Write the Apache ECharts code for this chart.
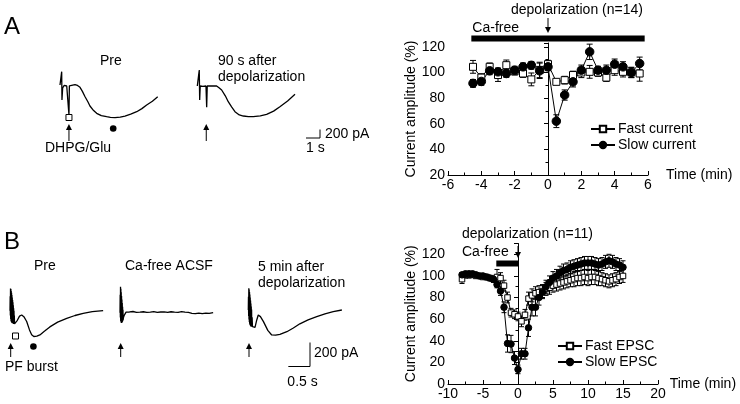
<!DOCTYPE html>
<html><head><meta charset="utf-8">
<script src="https://cdn.jsdelivr.net/npm/echarts@6/dist/echarts.min.js"></script>
<style>html,body{margin:0;padding:0;background:#fff}#c{width:740px;height:404px}</style>
</head><body><div id="c"></div>
<script>
const FONT = 'Liberation Sans, Arial, Helvetica, sans-serif';

// ---------- Panel A summary (time course, min) ----------
const timeA = [-4.5,-4,-3.5,-3,-2.5,-2,-1.5,-1,-0.5,0,0.5,1,1.5,2,2.5,3,3.5,4,4.5,5,5.5];
const fastA = [104.4,96,104.4,98,105.7,101,99.2,94.6,102,106.5,92.7,94,98,100,100.5,100,96,101.8,100.5,100,99.2];
const fastErrA = [5,3,3,5,4,3,3,5,6,3,2,3,3,4,5,3,3,4,4,4,6];
const slowA = [91.5,93,101.3,100.5,99.2,101.8,104.4,105.6,101.3,104.4,62,82.4,92.7,101.8,116.1,101.8,101.8,106.5,104.4,100,107];
const slowErrA = [3,3,3,3,3,3,3,3,6,3,5,4,4,4,6,3,4,4,4,4,5];
const caFreeA = [-4.6, 5.8];
const depolA = 0;

// ---------- Panel B summary ----------
const timeB = [-8,-7.5,-7,-6.5,-6,-5.5,-5,-4.5,-4,-3.5,-3,-2.5,-2,-1.5,-1,-0.5,0,0.5,1,1.5,2,2.5,3,3.5,4,4.5,5,5.5,6,6.5,7,7.5,8,8.5,9,9.5,10,10.5,11,11.5,12,12.5,13,13.5,14,14.5,15];
const fastB = [97,101,101,101,100,100,99,99,98,97,99,98,91,80,66,64.5,62.5,58,64,79,82,84,85,86,88,89,91,92,93,94,95,96,97,98,98,99,98,99,99,98,97,96,95,96,97,99,100];
const fastErrB = [4,3,3,2,2,2,2,2,2,3,7,5,5,5,4,4,4,5,5,6,6,6,6,6,6,6,6,6,6,6,6,6,7,7,7,7,7,7,7,7,6,6,6,6,6,6,6];
const slowB = [101,102,102,102,101,100,100,99,98,97,92,86,71,37.5,37,24,13.5,28,28,52,71,71,80,85,90,94,98,100,103,105,106,108,109,110,111,112,112,112,111,110,111,113,114,113,111,110,108];
const slowErrB = [2,2,2,2,2,2,2,2,2,2,3,4,5,8,8,6,4,5,5,8,8,8,7,6,6,6,6,6,6,6,6,6,6,6,6,6,6,6,6,6,6,6,6,6,6,6,6];
const caFreeB = [-3.1, 0];
const depolB = 0;

// ---------- Example traces (t in s, current in pA) ----------
const traceA1 = [[0,0],[0.1,0],[0.12,313],[0.14,-350],[0.19,-70],[0.3,-10],[0.48,-23],[0.6,0],[0.64,-705],[0.67,-20],[0.76,0],[1.07,10],[1.25,-10],[1.43,-55],[1.6,-150],[1.79,-275],[2.0,-400],[2.14,-494],[2.4,-600],[2.62,-666],[2.95,-720],[3.33,-745],[3.6,-760],[3.93,-768],[4.3,-755],[4.64,-729],[5.05,-685],[5.48,-627],[5.85,-555],[6.19,-470],[6.6,-380],[6.98,-274]];
const traceA2 = [[0,0],[0.12,0],[0.14,376],[0.17,-329],[0.21,0],[0.4,-10],[0.62,0],[0.67,-500],[0.71,0],[1.1,5],[1.38,0],[1.55,-40],[1.74,-94],[2.0,-230],[2.21,-368],[2.45,-490],[2.69,-603],[3.0,-680],[3.29,-705],[3.65,-718],[4.0,-720],[4.5,-700],[4.95,-666],[5.45,-590],[5.9,-486],[6.45,-350],[6.98,-196]];
const traceB1 = [[0,0],[0.004,120],[0.008,-40],[0.012,185],[0.016,-70],[0.02,180],[0.024,-85],[0.028,165],[0.032,-95],[0.036,150],[0.04,-100],[0.044,130],[0.048,-100],[0.052,110],[0.056,-105],[0.06,90],[0.064,-105],[0.068,70],[0.072,-105],[0.076,45],[0.08,-110],[0.084,20],[0.088,-110],[0.092,0],[0.096,-110],[0.1,-40],[0.104,-110],[0.115,-111],[0.17,-80],[0.22,-45],[0.27,-36],[0.32,-50],[0.385,-90],[0.45,-160],[0.5,-200],[0.55,-215],[0.62,-212],[0.69,-202],[0.8,-170],[0.92,-135],[1.1,-95],[1.31,-64],[1.5,-40],[1.69,-22],[1.9,-8],[2.15,0]];
const traceB2 = [[0,0],[0.004,150],[0.008,-40],[0.012,217],[0.016,-70],[0.02,200],[0.024,-80],[0.028,170],[0.032,-86],[0.036,140],[0.04,-86],[0.044,110],[0.048,-80],[0.052,80],[0.056,-75],[0.06,50],[0.064,-70],[0.068,25],[0.072,-60],[0.08,-40],[0.1,-20],[0.14,5],[0.18,-8],[0.22,6],[0.26,-4],[0.3,10],[0.34,-6],[0.38,3],[0.42,-10],[0.46,5],[0.5,-3],[0.54,8],[0.58,-7],[0.62,2],[0.66,-9],[0.7,4],[0.74,-2],[0.78,9],[0.82,-6],[0.86,3],[0.9,-8],[0.94,6],[0.98,-3],[1.02,7],[1.06,-9],[1.1,2],[1.14,-5],[1.18,8],[1.22,-4],[1.26,5],[1.3,-8],[1.34,3],[1.38,-2],[1.42,9],[1.46,-6],[1.5,4],[1.54,-9],[1.58,2],[1.62,6],[1.66,-5],[1.7,3],[1.74,-8],[1.78,7],[1.82,-3],[1.86,5],[1.9,-7],[1.94,4],[1.98,-4],[2.02,8],[2.06,-6],[2.1,3],[2.15,0]];
const traceB3 = [[0,0],[0.004,110],[0.008,-50],[0.012,181],[0.016,-80],[0.02,170],[0.024,-100],[0.028,150],[0.032,-115],[0.036,130],[0.04,-125],[0.044,105],[0.048,-130],[0.052,80],[0.056,-135],[0.06,55],[0.064,-138],[0.068,30],[0.072,-139],[0.076,5],[0.08,-139],[0.088,-60],[0.096,-139],[0.11,-140],[0.155,-144],[0.19,-90],[0.23,-42],[0.28,-55],[0.35,-97],[0.45,-170],[0.54,-208],[0.63,-210],[0.73,-203],[0.89,-181],[1.04,-150],[1.19,-115],[1.38,-82],[1.58,-56],[1.77,-32],[1.96,-14],[2.16,0]];
const stimA = 0.64;   // DHPG/Glu puff time in trace (s)
const stimB = 0.0;    // PF burst onset (s)

const axLine = {lineStyle:{color:'#000', width:1}};
const txt = {color:'#000', fontFamily:FONT, fontSize:14};

function errSeries(name, xi, yi, xs, ys, es, cap){
  return {
    type:'custom', name:name+'_err', xAxisIndex:xi, yAxisIndex:yi, z:1, silent:true,
    data: xs.map((x,i)=>[x, ys[i]-es[i], ys[i]+es[i]]),
    renderItem:function(params, api){
      const lo = api.coord([api.value(0), api.value(1)]);
      const hi = api.coord([api.value(0), api.value(2)]);
      const st = {stroke:'#000', lineWidth:1};
      return {type:'group', children:[
        {type:'line', shape:{x1:lo[0],y1:lo[1],x2:hi[0],y2:hi[1]}, style:st},
        {type:'line', shape:{x1:hi[0]-cap,y1:hi[1],x2:hi[0]+cap,y2:hi[1]}, style:st},
        {type:'line', shape:{x1:lo[0]-cap,y1:lo[1],x2:lo[0]+cap,y2:lo[1]}, style:st}
      ]};
    }
  };
}

function sumX(gi, min, max, interval, gap){
  return {gridIndex:gi, type:'value', min:min, max:max, interval:interval,
    axisLine:axLine, axisTick:{inside:true, length:4, lineStyle:{color:'#000'}},
    minorTick:{show:true, splitNumber:2, length:2.5, lineStyle:{color:'#000'}},
    splitLine:{show:false}, minorSplitLine:{show:false},
    axisLabel:Object.assign({margin:3}, txt),
    name:'Time (min)', nameLocation:'end', nameGap:gap,
    nameTextStyle:Object.assign({align:'left', verticalAlign:'middle', padding:[0,0,0,0]}, txt)};
}
function sumY(gi, min, max){
  return {gridIndex:gi, type:'value', min:min, max:max, interval:20,
    axisLine:Object.assign({show:true}, axLine), axisTick:{show:true, inside:false, length:4, lineStyle:{color:'#000'}},
    minorTick:{show:true, splitNumber:2, length:2.5, lineStyle:{color:'#000'}},
    splitLine:{show:false}, minorSplitLine:{show:false},
    axisLabel:Object.assign({margin:3, formatter:v=> (v%20===0 ? String(v) : '')}, txt),
    name:'Current amplitude (%)', nameLocation:'middle', nameGap:30, nameRotate:90,
    nameTextStyle:txt};
}
function hidX(gi, max){ return {gridIndex:gi, type:'value', min:0, max:max, show:false}; }
function hidY(gi, min, max){ return {gridIndex:gi, type:'value', min:min, max:max, show:false}; }

const lineSer = (name, xi, yi, xs, ys, sym, size, fill) => ({
  type:'line', name:name, xAxisIndex:xi, yAxisIndex:yi, z:3,
  data: xs.map((x,i)=>[x, ys[i]]),
  symbol:sym, symbolSize:size, showAllSymbol:true,
  itemStyle:{color:fill, borderColor:'#000', borderWidth:1},
  lineStyle:{color:'#000', width:1}
});
const traceSer = (xi, data) => ({
  type:'line', xAxisIndex:xi, yAxisIndex:xi, data:data, showSymbol:false, silent:true,
  lineStyle:{color:'#000', width:1.3}, z:2
});

const chart = echarts.init(document.getElementById('c'), null, {renderer:'canvas'});
const option = {
  animation:false,
  backgroundColor:'#fff',
  textStyle:{fontFamily:FONT},
  grid:[
    {left:448, top:43, width:200, height:132},          // A summary
    {left:448, top:243.5, width:210, height:140.5},     // B summary
    {left:60, top:68, width:98, height:55.3},           // A1 trace
    {left:197.3, top:69, width:98, height:55.3},        // A2 trace
    {left:10, top:274.7, width:95.3, height:72},        // B1 trace
    {left:120, top:276.7, width:95.3, height:72},       // B2 trace
    {left:248.3, top:274, width:95.3, height:72}        // B3 trace
  ],
  xAxis:[ sumX(0,-6,6,2,18), sumX(1,-10,20,5,10), hidX(2,7), hidX(3,7), hidX(4,2.2), hidX(5,2.2), hidX(6,2.2) ],
  yAxis:[ sumY(0,20,123), sumY(1,0,130), hidY(2,-900,400), hidY(3,-900,400), hidY(4,-300,300), hidY(5,-300,300), hidY(6,-300,300) ],
  legend:[
    {left:585, top:117, orient:'vertical', itemGap:2, itemWidth:24, itemHeight:8, data:['Fast current','Slow current'],
     textStyle:Object.assign({padding:[0,0,0,-2]}, txt)},
    {left:552, top:334, orient:'vertical', itemGap:2, itemWidth:24, itemHeight:8, data:['Fast EPSC','Slow EPSC'],
     textStyle:Object.assign({padding:[0,0,0,-2]}, txt)}
  ],
  series:[
    errSeries('fa',0,0,timeA,fastA,fastErrA,3),
    errSeries('sa',0,0,timeA,slowA,slowErrA,3),
    lineSer('Fast current',0,0,timeA,fastA,'rect',7,'#fff'),
    lineSer('Slow current',0,0,timeA,slowA,'circle',8.5,'#000'),
    errSeries('fb',1,1,timeB,fastB,fastErrB,2.5),
    errSeries('sb',1,1,timeB,slowB,slowErrB,2.5),
    lineSer('Fast EPSC',1,1,timeB,fastB,'rect',5.5,'#fff'),
    lineSer('Slow EPSC',1,1,timeB,slowB,'circle',6.5,'#000'),
    traceSer(2, traceA1), traceSer(3, traceA2),
    traceSer(4, traceB1), traceSer(5, traceB2), traceSer(6, traceB3)
  ]
};
chart.setOption(option);

// ---------- annotations placed through the axes ----------
const px = (gi, x, y) => chart.convertToPixel({gridIndex:gi}, [x, y]);
const g = [];
const T = (text, x, y, extra) => g.push({type:'text', x:x, y:y, style:Object.assign({text:text, fill:'#000', font:'14px '+FONT}, extra||{}), z:10});
const L = (x1,y1,x2,y2,w) => g.push({type:'line', shape:{x1,y1,x2,y2}, style:{stroke:'#000', lineWidth:w||1}, z:10});
const arrowUp = (x, yTop, yBot) => { L(x, yTop+4, x, yBot, 1); g.push({type:'polygon', shape:{points:[[x,yTop],[x-3,yTop+6],[x+3,yTop+6]]}, style:{fill:'#000'}, z:10}); };
const arrowDown = (x, yTop, yBot) => { L(x, yTop, x, yBot-4, 1); g.push({type:'polygon', shape:{points:[[x,yBot],[x-3,yBot-6],[x+3,yBot-6]]}, style:{fill:'#000'}, z:10}); };

// Panel letters
T('A', 4, 15, {font:'24px '+FONT});
T('B', 4, 230, {font:'24px '+FONT});

// A summary: Ca-free bar + depolarization arrow
const a0 = px(0, caFreeA[0], 100), a1 = px(0, caFreeA[1], 100);
g.push({type:'rect', shape:{x:a0[0], y:35.5, width:a1[0]-a0[0], height:6}, style:{fill:'#000'}, z:10});
T('Ca-free', a0[0]+1, 21);
const dA = px(0, depolA, 100)[0];
arrowDown(dA, 18, 33);
T('depolarization (n=14)', dA-37, 3);

// B summary
const b0 = px(1, caFreeB[0], 100), b1 = px(1, caFreeB[1], 100);
g.push({type:'rect', shape:{x:b0[0], y:260.5, width:b1[0]-b0[0], height:6}, style:{fill:'#000'}, z:10});
const dB = px(1, depolB, 100)[0];
arrowDown(dB, 246, 258);
T('Ca-free', dB-56, 245);
T('depolarization (n=11)', dB-56, 227);

// A traces labels
T('Pre', 100, 54);
T('90 s after', 218, 54);
T('depolarization', 218, 70);
const sA1 = px(2, stimA, 0)[0];
g.push({type:'rect', shape:{x:sA1-3, y:114.5, width:6, height:6}, style:{fill:'#fff', stroke:'#000', lineWidth:1}, z:10});
arrowUp(sA1, 124, 141);
T('DHPG/Glu', 45, 141);
g.push({type:'circle', shape:{cx:px(2, 3.8, 0)[0], cy:128.5, r:3.3}, style:{fill:'#000'}, z:10});
const sA2 = px(3, stimA, 0)[0];
arrowUp(sA2, 124, 141);
// A scale bar: 1 s x 200 pA
{
  const p0 = px(3, 0, 0), p1 = px(3, 1, 0), p2 = px(3, 0, 200);
  const sx = p1[0]-p0[0], sy = p0[1]-p2[1];
  const cx = 320, cy = 138;
  L(cx - sx, cy, cx, cy, 1); L(cx, cy, cx, cy - sy, 1);
  T('200 pA', cx+5, cy-sy-2);
  T('1 s', cx - sx, cy+3);
}

// B traces labels
T('Pre', 34, 259);
T('Ca-free ACSF', 125, 259);
T('5 min after', 258, 260);
T('depolarization', 258, 276);
const sB1 = px(4, stimB, 0)[0];
g.push({type:'rect', shape:{x:12.5, y:333, width:6, height:6}, style:{fill:'#fff', stroke:'#000', lineWidth:1}, z:10});
arrowUp(sB1+0.7, 343, 357);
T('PF burst', 5, 360);
g.push({type:'circle', shape:{cx:px(4, 0.54, 0)[0], cy:346.5, r:3.3}, style:{fill:'#000'}, z:10});
arrowUp(px(5, stimB, 0)[0]+0.7, 343, 357);
arrowUp(px(6, stimB, 0)[0]+0.7, 343, 357);
// B scale bar: 0.5 s x 200 pA
{
  const p0 = px(6, 0, 0), p1 = px(6, 0.5, 0), p2 = px(6, 0, 200);
  const sx = p1[0]-p0[0], sy = p0[1]-p2[1];
  const cx = 310, cy = 366.5;
  L(cx - sx, cy, cx, cy, 1); L(cx, cy, cx, cy - sy, 1);
  T('200 pA', cx+4, cy-sy/2-8);
  T('0.5 s', cx - sx - 1, cy+9);
}

chart.setOption({graphic:{elements:g}});
</script></body></html>
